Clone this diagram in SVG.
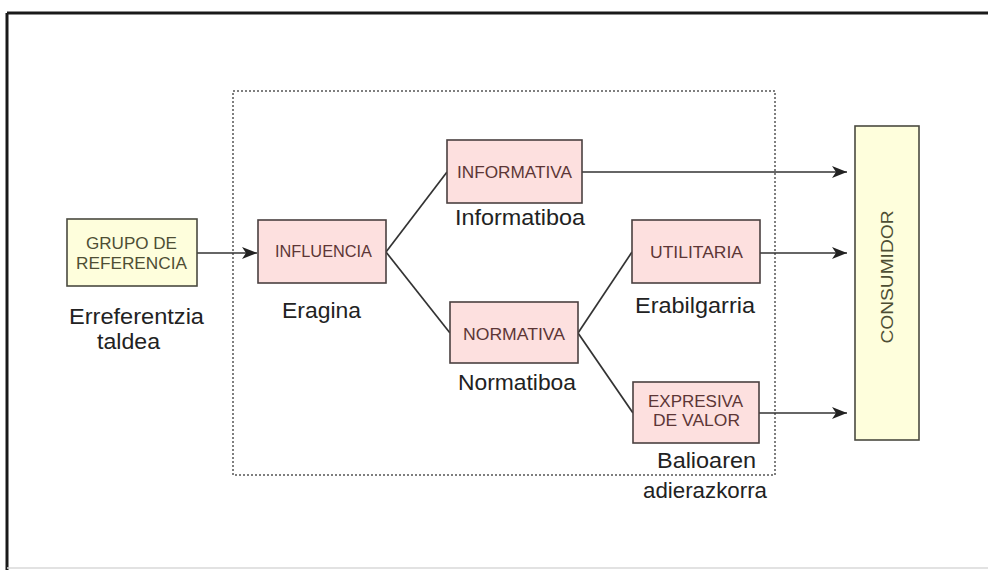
<svg xmlns="http://www.w3.org/2000/svg" width="988" height="570" viewBox="0 0 988 570">
<style>
.pink{fill:#fde0df;stroke:#4a4040;stroke-width:1.6}
.yel{fill:#fefedc;stroke:#4a4a40;stroke-width:1.6}
.bt{font-family:"Liberation Sans",Arial,sans-serif;font-size:16px;fill:#5c3636}
.yt{font-family:"Liberation Sans",Arial,sans-serif;font-size:16px;fill:#4e4e34}
.lb{font-family:"Liberation Sans",Arial,sans-serif;font-size:22px;fill:#222}
.ln{stroke:#333;stroke-width:1.7;fill:none}
</style>
<defs>
<marker id="ah" markerWidth="16" markerHeight="12" refX="15" refY="6" orient="auto" markerUnits="userSpaceOnUse">
<path d="M0,0 L15,6 L0,12 L4,6 Z" fill="#222"/>
</marker>
</defs>
<rect x="0" y="0" width="988" height="570" fill="#fff"/>
<g id="frame">
<line x1="7" y1="13" x2="988" y2="13" stroke="#1a1a1a" stroke-width="3"/>
<line x1="7" y1="13" x2="7" y2="570" stroke="#1a1a1a" stroke-width="3"/>
<line x1="7" y1="568" x2="988" y2="568" stroke="#d8d8d8" stroke-width="1.5"/>
</g>
<g id="group-box">
<rect x="233" y="91" width="542" height="384" fill="none" stroke="#555" stroke-width="1.5" stroke-dasharray="2,2"/>
</g>
<g id="connectors">
<line class="ln" x1="197" y1="253" x2="257" y2="253" marker-end="url(#ah)"/>
<line class="ln" x1="386" y1="252" x2="447" y2="172"/>
<line class="ln" x1="386" y1="252" x2="450" y2="333"/>
<line class="ln" x1="578" y1="333" x2="632" y2="252"/>
<line class="ln" x1="578" y1="333" x2="633" y2="413"/>
<line class="ln" x1="582" y1="172" x2="847" y2="172" marker-end="url(#ah)"/>
<line class="ln" x1="760" y1="253" x2="847" y2="253" marker-end="url(#ah)"/>
<line class="ln" x1="759" y1="413" x2="847" y2="413" marker-end="url(#ah)"/>
</g>
<g id="grupo">
<rect class="yel" x="67" y="219" width="130" height="67"/>
<text class="yt" x="86" y="249" textLength="91" lengthAdjust="spacingAndGlyphs">GRUPO DE</text>
<text class="yt" x="76" y="269" textLength="111" lengthAdjust="spacingAndGlyphs">REFERENCIA</text>
<text class="lb" x="69" y="324" textLength="135" lengthAdjust="spacingAndGlyphs">Erreferentzia</text>
<text class="lb" x="97" y="349" textLength="63" lengthAdjust="spacingAndGlyphs">taldea</text>
</g>
<g id="influencia">
<rect class="pink" x="258" y="220" width="128" height="63"/>
<text class="bt" x="275" y="257" textLength="97" lengthAdjust="spacingAndGlyphs">INFLUENCIA</text>
<text class="lb" x="282" y="318" textLength="79" lengthAdjust="spacingAndGlyphs">Eragina</text>
</g>
<g id="informativa">
<rect class="pink" x="447" y="140" width="135" height="63"/>
<text class="bt" x="457" y="178" textLength="115" lengthAdjust="spacingAndGlyphs">INFORMATIVA</text>
<text class="lb" x="455" y="225" textLength="130" lengthAdjust="spacingAndGlyphs">Informatiboa</text>
</g>
<g id="normativa">
<rect class="pink" x="450" y="302" width="128" height="61"/>
<text class="bt" x="463" y="340" textLength="102" lengthAdjust="spacingAndGlyphs">NORMATIVA</text>
<text class="lb" x="458" y="390" textLength="118" lengthAdjust="spacingAndGlyphs">Normatiboa</text>
</g>
<g id="utilitaria">
<rect class="pink" x="632" y="220" width="128" height="63"/>
<text class="bt" x="650" y="258" textLength="93" lengthAdjust="spacingAndGlyphs">UTILITARIA</text>
<text class="lb" x="635" y="313" textLength="120" lengthAdjust="spacingAndGlyphs">Erabilgarria</text>
</g>
<g id="expresiva">
<rect class="pink" x="633" y="382" width="126" height="61"/>
<text class="bt" x="648" y="407" textLength="95" lengthAdjust="spacingAndGlyphs">EXPRESIVA</text>
<text class="bt" x="653" y="426" textLength="87" lengthAdjust="spacingAndGlyphs">DE VALOR</text>
<text class="lb" x="657" y="468" textLength="99" lengthAdjust="spacingAndGlyphs">Balioaren</text>
<text class="lb" x="643" y="498" textLength="124" lengthAdjust="spacingAndGlyphs">adierazkorra</text>
</g>
<g id="consumidor">
<rect class="yel" x="855" y="126" width="64" height="314"/>
<text class="yt" transform="translate(893,277) rotate(-90)" x="0" y="0" text-anchor="middle" font-size="18" fill="#33332a" textLength="133" lengthAdjust="spacingAndGlyphs">CONSUMIDOR</text>
</g>
</svg>
